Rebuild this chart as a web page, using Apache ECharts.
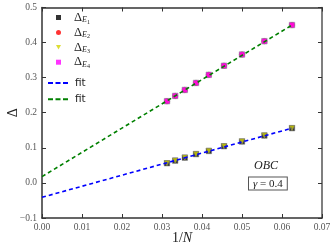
<!DOCTYPE html>
<html><head><meta charset="utf-8">
<script src="https://cdn.jsdelivr.net/npm/echarts@6/dist/echarts.min.js"></script>
<style>html,body{margin:0;padding:0;background:#fff}#c{width:332px;height:249px}</style>
</head><body><div id="c"></div>
<script>
// 1/N values
var invN = [0.03125, 0.0333, 0.0357, 0.0385, 0.0417, 0.0455, 0.05, 0.0556, 0.0625];
var dE1 = [0.056, 0.0635, 0.072, 0.082, 0.091, 0.1045, 0.118, 0.135, 0.156];
var dE2 = [0.233, 0.248, 0.265, 0.285, 0.308, 0.334, 0.366, 0.404, 0.450];
var dE3 = [0.056, 0.0635, 0.072, 0.082, 0.091, 0.1045, 0.118, 0.135, 0.156];
var dE4 = [0.233, 0.248, 0.265, 0.285, 0.308, 0.334, 0.366, 0.404, 0.450];
var fitX = [0, 0.0625];
var fitLow = [-0.041, 0.156];
var fitHigh = [0.018, 0.450];

function pairs(xs, ys){ return xs.map(function(x,i){ return [x, ys[i]]; }); }

var serif = 'Liberation Serif';
var axisCol = '#333';
var chart = echarts.init(document.getElementById('c'));
var tick = {show:true, inside:true, length:4, lineStyle:{color:axisCol, width:1}};
function scatter(name, data, sym, color, rot){
  return {name:name, type:'scatter', xAxisIndex:0, yAxisIndex:0, data:data, symbol:sym, symbolSize:5.5,
    symbolRotate: rot||0, itemStyle:{color:color, borderColor:'#777', borderWidth:0.6}, z:2};
}
var dash = 'path://M0,0h5v2h-5z M7.5,0h5v2h-5z M15,0h5v2h-5z';
chart.setOption({
  animation:false,
  grid:{left:42, right:10, top:7.5, bottom:31, containLabel:false, outerBoundsMode:'none'},
  legend:[
    {orient:'vertical', left:56, top:11, padding:0, itemWidth:5, itemHeight:5, itemGap:0.9,
     data:[{name:'E1',icon:'rect'},{name:'E2',icon:'circle'},{name:'E3',icon:'path://M0,0L10,0L5,9Z'},{name:'E4',icon:'rect'}],
     itemStyle:{borderWidth:0},
     textStyle:{fontFamily:serif, fontSize:12, color:'#222', padding:[0,0,0,8],
      rich:{d:{fontFamily:serif,fontSize:12.5,color:'#222',lineHeight:16}, e:{fontFamily:serif,fontSize:8,fontStyle:'italic',color:'#222',padding:[5,0,0,0]}, n:{fontFamily:serif,fontSize:6,color:'#222',padding:[9,0,0,0]}}},
     formatter:function(n){ return '{d|Δ}{e|E}{n|'+n.slice(1)+'}'; }},
    {orient:'vertical', left:48, top:75, padding:0, itemWidth:20, itemHeight:2, itemGap:0.3,
     data:[{name:'fitA',icon:dash},{name:'fitB',icon:dash}],
     textStyle:{fontFamily:'DejaVu Sans', fontSize:10.5, color:'#222', lineHeight:16, padding:[0,0,0,2]},
     formatter:function(){ return 'fit'; }}
  ],
  xAxis:[
    {type:'value', min:0, max:0.07, interval:0.01, position:'bottom',
      name:'{a|1/}{b|N}', nameLocation:'middle', nameGap:13, nameMoveOverlap:false,
      nameTextStyle:{rich:{a:{fontFamily:serif,fontSize:14,color:'#222'}, b:{fontFamily:serif,fontSize:14,fontStyle:'italic',color:'#222'}}},
      axisLine:{show:true, onZero:false, lineStyle:{color:axisCol, width:1.5}}, axisTick:tick,
      splitLine:{show:false},
      axisLabel:{fontFamily:serif, fontSize:9.5, color:'#555', margin:4, formatter:function(v){return v.toFixed(2);}}},
    {type:'value', min:0, max:0.07, interval:0.01, position:'top',
      axisLine:{show:true, onZero:false, lineStyle:{color:axisCol, width:1.5}}, axisTick:tick,
      splitLine:{show:false}, axisLabel:{show:false}}
  ],
  yAxis:[
    {type:'value', min:-0.1, max:0.5, interval:0.1, position:'left',
      name:'Δ', nameLocation:'middle', nameGap:22, nameRotate:90, nameMoveOverlap:false,
      nameTextStyle:{fontFamily:serif, fontSize:14, color:'#222'},
      axisLine:{show:true, onZero:false, lineStyle:{color:axisCol, width:1.5}}, axisTick:tick,
      splitLine:{show:false},
      axisLabel:{fontFamily:serif, fontSize:9.5, color:'#555', margin:5, formatter:function(v){return (v<0?'\u2212':'')+Math.abs(v).toFixed(1);}}},
    {type:'value', min:-0.1, max:0.5, interval:0.1, position:'right',
      axisLine:{show:true, onZero:false, lineStyle:{color:'#555', width:1.5}}, axisTick:tick,
      splitLine:{show:false}, axisLabel:{show:false}}
  ],
  series:[
    scatter('E1', pairs(invN,dE1), 'rect', '#000000'),
    scatter('E2', pairs(invN,dE2), 'circle', '#ff0000'),
    scatter('E3', pairs(invN,dE3), 'triangle', '#d4d400', 180),
    scatter('E4', pairs(invN,dE4), 'rect', '#ff00ff'),
    {name:'fitA', type:'line', data:pairs(fitX,fitLow), showSymbol:false, symbol:'none', z:3,
      lineStyle:{color:'#0000ff', width:1.6, type:[4,3]}, itemStyle:{color:'#0000ff'}},
    {name:'fitB', type:'line', data:pairs(fitX,fitHigh), showSymbol:false, symbol:'none', z:3,
      lineStyle:{color:'#008000', width:1.6, type:[4,3]}, itemStyle:{color:'#008000'}}
  ],
  graphic:[
    {type:'text', left:254, top:160, style:{text:'OBC', fontFamily:serif, fontSize:12, fontStyle:'italic', fill:'#222'}},
    {type:'text', left:248, top:176.5, style:{text:'{g|γ} = 0.4', fontFamily:serif, fontSize:11, fill:'#222',
      rich:{g:{fontFamily:serif,fontSize:11,fontStyle:'italic',fill:'#222'}},
      borderColor:'#555', borderWidth:1, padding:[1,4,0,4], backgroundColor:'#fff'}}
  ]
});
</script></body></html>
